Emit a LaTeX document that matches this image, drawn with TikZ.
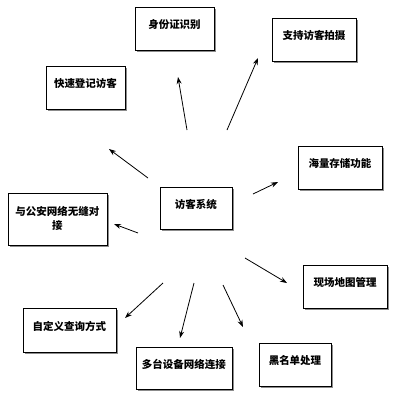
\documentclass[tikz,border=0pt]{standalone}
\usepackage{fontspec}
\setmainfont{Noto Sans CJK SC}
\usetikzlibrary{shadows,arrows.meta}
\tikzset{
  box/.style={draw=black, line width=0.9pt, fill=white, rectangle, inner sep=0pt,
    font=\fontsize{10.5}{14}\selectfont\bfseries, align=center,
    text depth=9pt,
    drop shadow={shadow xshift=2pt, shadow yshift=-2pt, fill=black!45, opacity=1}},
  conn/.style={line width=0.8pt, -{Stealth[length=7pt,width=5pt]}}
}
\begin{document}
\begin{tikzpicture}[x=1pt,y=-1pt]
\useasboundingbox (0,0) rectangle (400,400);
\node[box, minimum width=79pt, minimum height=43pt] (id) at (174.5,28.5) {身份证识别};
\node[box, minimum width=84pt, minimum height=43pt] (photo) at (314,39.5) {支持访客拍摄};
\node[box, minimum width=79pt, minimum height=43pt] (fast) at (85.5,87.5) {快速登记访客};
\node[box, minimum width=84pt, minimum height=43pt] (store) at (340,167.5) {海量存储功能};
\node[box, minimum width=99pt, minimum height=52pt, text depth=2pt] (police) at (57.5,219) {与公安网络无缝对\\接};
\node[box, minimum width=72pt, minimum height=42pt] (sys) at (196,208) {访客系统};
\node[box, minimum width=84pt, minimum height=43pt] (map) at (345,286.5) {现场地图管理};
\node[box, minimum width=93pt, minimum height=44pt] (query) at (69.5,330) {自定义查询方式};
\node[box, minimum width=96pt, minimum height=42pt] (multi) at (184,368) {多台设备网络连接};
\node[box, minimum width=72pt, minimum height=43pt] (black) at (295,364.5) {黑名单处理};

\coordinate (s1) at (187,130); \coordinate (e1) at (178,77);
\coordinate (s2) at (227,130); \coordinate (e2) at (258,58);
\coordinate (s3) at (148,178); \coordinate (e3) at (109,149);
\coordinate (s4) at (253,194); \coordinate (e4) at (278,182);
\coordinate (s5) at (138,233); \coordinate (e5) at (114,224);
\coordinate (s6) at (245,258); \coordinate (e6) at (287,283);
\coordinate (s7) at (163,283); \coordinate (e7) at (125,318);
\coordinate (s8) at (194,283); \coordinate (e8) at (180,338);
\coordinate (s9) at (223,285); \coordinate (e9) at (243,327);
\draw[conn] (s1) -- (e1);
\draw[conn] (s2) -- (e2);
\draw[conn] (s3) -- (e3);
\draw[conn] (s4) -- (e4);
\draw[conn] (s5) -- (e5);
\draw[conn] (s6) -- (e6);
\draw[conn] (s7) -- (e7);
\draw[conn] (s8) -- (e8);
\draw[conn] (s9) -- (e9);
\end{tikzpicture}
\end{document}
